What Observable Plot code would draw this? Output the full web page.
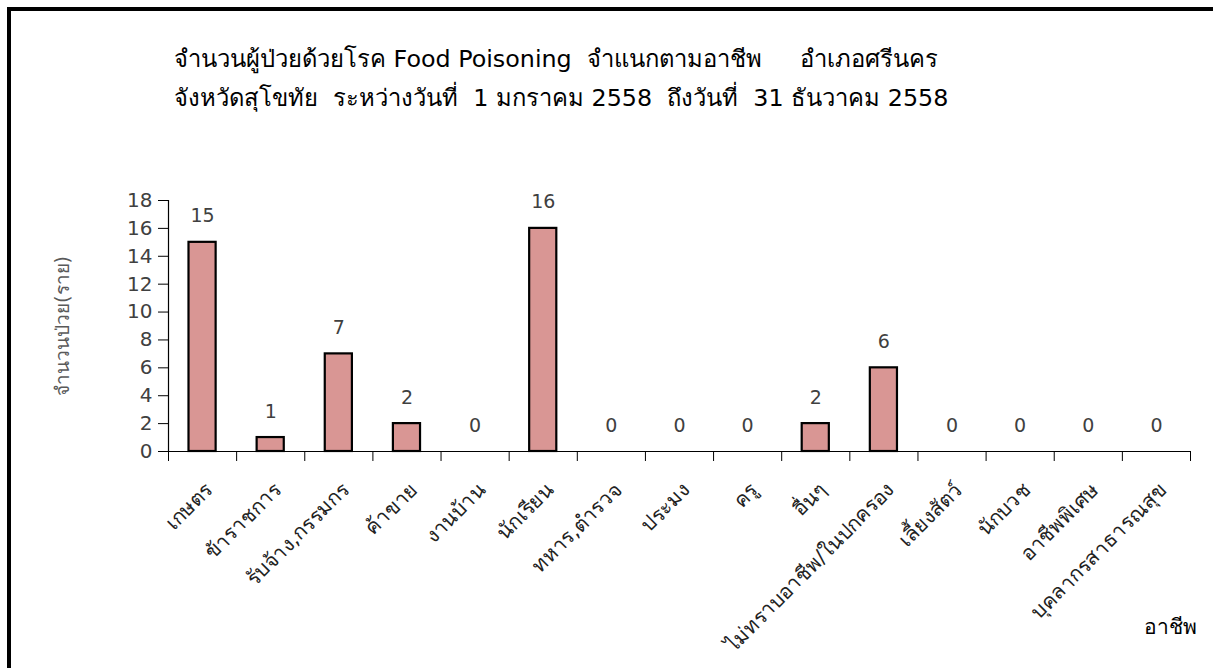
<!DOCTYPE html>
<html><head><meta charset="utf-8">
<script src="https://cdn.jsdelivr.net/npm/d3@7"></script>
<script src="https://cdn.jsdelivr.net/npm/@observablehq/plot@0.6"></script>
<style>
html,body{margin:0;padding:0;background:#fff;}
body{width:1213px;height:668px;overflow:hidden;position:relative;font-family:Tahoma,"DejaVu Sans","Noto Sans",sans-serif;}
#frame{position:absolute;left:7px;top:7px;width:1300px;height:800px;border-left:4px solid #000;border-top:4px solid #000;box-sizing:border-box;}
#title{position:absolute;left:174px;top:40px;font-size:23.8px;line-height:39px;color:#000;white-space:pre;}
#chart{position:absolute;left:0;top:120px;}
#xlabel{position:absolute;left:1144px;top:610px;font-size:21px;color:#000;}
</style></head>
<body>
<div id="frame"></div>
<div id="title"></div>
<div id="chart"></div>
<div id="xlabel"></div>
<script>
const titleLines = [
  "จำนวนผู้ป่วยด้วยโรค Food Poisoning  จำแนกตามอาชีพ     อำเภอศรีนคร",
  "จังหวัดสุโขทัย  ระหว่างวันที่  1 มกราคม 2558  ถึงวันที่  31 ธันวาคม 2558"
];
const occupations = [
  "เกษตร", "ข้าราชการ", "รับจ้าง,กรรมกร", "ค้าขาย", "งานบ้าน", "นักเรียน",
  "ทหาร,ตำรวจ", "ประมง", "ครู", "อื่นๆ", "ไม่ทราบอาชีพ/ในปกครอง",
  "เลี้ยงสัตว์", "นักบวช", "อาชีพพิเศษ", "บุคลากรสาธารณสุข"
];
const cases = [15, 1, 7, 2, 0, 16, 0, 0, 0, 2, 6, 0, 0, 0, 0];
const yTicks = [0, 2, 4, 6, 8, 10, 12, 14, 16, 18];
const yLabel = "จำนวนป่วย(ราย)";
const xLabel = "อาชีพ";

document.getElementById("title").textContent = titleLines.join("\n");
document.getElementById("xlabel").textContent = xLabel;

const data = occupations.map((name, i) => ({i, name, v: cases[i]}));
const bounds = d3.range(occupations.length + 1);

const chart = Plot.plot({
  width: 1213,
  height: 548,
  marginTop: 80,
  marginBottom: 217,
  marginLeft: 168,
  marginRight: 23,
  style: {fontFamily: 'Tahoma,"DejaVu Sans","Noto Sans",sans-serif', background: "transparent", overflow: "visible"},
  x: {type: "linear", domain: [0, occupations.length], axis: null},
  y: {domain: [0, 18], axis: null},
  marks: [
    Plot.rect(data.filter(d => d.v > 0), {
      x1: d => d.i, x2: d => d.i + 1, y1: 0, y2: "v",
      insetLeft: 20.5, insetRight: 20.5,
      fill: "#d99694", stroke: "#000", strokeWidth: 2.2
    }),
    Plot.axisY(yTicks, {anchor: "left", tickSize: 10, tickPadding: 6, fontSize: 20, fill: "#404040", stroke: "#000", label: null}),
    Plot.ruleX([0], {y1: 0, y2: 18, stroke: "#000", strokeWidth: 1.2}),
    Plot.ruleY([0], {x1: 0, x2: occupations.length, stroke: "#000", strokeWidth: 1.2}),
    Plot.axisX(bounds, {anchor: "bottom", tickSize: 10, tickFormat: () => "", stroke: "#000", label: null}),
    Plot.text(data, {
      x: d => d.i + 0.5, y: "v", text: d => String(d.v),
      dy: -26, fontSize: 19, fill: "#404040"
    }),
    Plot.text(data, {
      x: d => d.i + 0.5, y: 0, text: "name",
      rotate: -45, textAnchor: "end", dx: 7, dy: 35,
      fontSize: 20.5, fill: "#222"
    }),
    Plot.text([yLabel], {
      frameAnchor: "left", textAnchor: "middle", dx: -106, rotate: -90,
      fontSize: 19, fill: "#595959"
    })
  ]
});
document.getElementById("chart").appendChild(chart);
</script>
</body></html>
